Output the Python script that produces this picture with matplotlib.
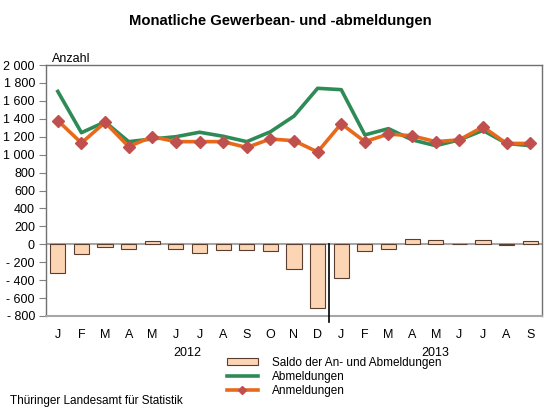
import matplotlib
matplotlib.use("Agg")
import matplotlib.pyplot as plt
from matplotlib.patches import Patch
from matplotlib.lines import Line2D
from matplotlib.ticker import FixedLocator, FuncFormatter
import numpy as np

plt.rcParams['font.family'] = ['Liberation Sans', 'DejaVu Sans']

months = ["J", "F", "M", "A", "M", "J", "J", "A", "S", "O", "N", "D",
          "J", "F", "M", "A", "M", "J", "J", "A", "S"]
years = ["2012", "2013"]
abmeldungen = [1705, 1245, 1365, 1145, 1175, 1200, 1250, 1205, 1145, 1255, 1430, 1740,
               1725, 1220, 1290, 1165, 1100, 1165, 1270, 1125, 1100]
anmeldungen = [1380, 1130, 1360, 1090, 1200, 1145, 1145, 1145, 1080, 1175, 1155, 1030,
               1345, 1145, 1230, 1210, 1145, 1165, 1310, 1125, 1125]
saldo = [-320, -108, -30, -52, 34, -52, -101, -64, -60, -78, -277, -710,
         -381, -75, -56, 56, 45, 5, 45, -10, 34]

W, H = 556, 418
fig = plt.figure(figsize=(W / 100, H / 100), dpi=100)
ax_l, ax_r, ax_t, ax_b = 46, 542, 65, 316
ax = fig.add_axes([ax_l / W, (H - ax_b) / H, (ax_r - ax_l) / W, (ax_b - ax_t) / H])

x = np.arange(len(months))
ax.bar(x, saldo, width=0.64, color="#FCD5B5", edgecolor="#5A3E30", linewidth=0.8, zorder=2)
ax.axhline(0, color="#A6A6A6", lw=1.5, zorder=1)
ax.plot(x, abmeldungen, color="#2E8B57", lw=2.6, zorder=3)
ax.plot(x, anmeldungen, color="#E8691A", lw=2.6, marker="D", markersize=6.5,
        markerfacecolor="#C0504D", markeredgecolor="#C0504D", zorder=4)

ax.set_xlim(-0.5, len(months) - 0.5)
ax.set_ylim(-800, 2000)
ax.yaxis.set_major_locator(FixedLocator(np.arange(-800, 2001, 200)))


def fmt(v, pos):
    v = int(round(v))
    s = "{:,}".format(abs(v)).replace(",", " ")
    return ("- " + s) if v < 0 else s


ax.yaxis.set_major_formatter(FuncFormatter(fmt))
ax.set_xticks(x)
ax.set_xticklabels(months)
ax.tick_params(axis="x", length=0, pad=9, labelsize=9)
ax.tick_params(axis="y", length=5, width=0.8, color="#808080", pad=3, labelsize=9)

for s in ["top", "right", "left"]:
    ax.spines[s].set_color("#707070")
    ax.spines[s].set_linewidth(1.0)
ax.spines["bottom"].set_color("#A6A6A6")
ax.spines["bottom"].set_linewidth(1.5)

# separator between years
ax.plot([11.5, 11.5], [0, -868], color="black", lw=1.2, clip_on=False, zorder=5)

# year labels
ax.text(5.5, -0.147, years[0], transform=ax.get_xaxis_transform(), ha="center", va="center", fontsize=9)
ax.text(16.0, -0.147, years[1], transform=ax.get_xaxis_transform(), ha="center", va="center", fontsize=9)

# Anzahl label
fig.text(52 / W, (H - 59) / H, "Anzahl", ha="left", va="center", fontsize=9)

# title
fig.text(280 / W, (H - 21) / H, "Monatliche Gewerbean- und -abmeldungen", ha="center", va="center",
         fontsize=10.7, fontweight="bold")

# legend
handles = [
    Patch(facecolor="#FCD5B5", edgecolor="#5A3E30", linewidth=0.8),
    Line2D([], [], color="#2E8B57", lw=2.6),
    Line2D([], [], color="#E8691A", lw=2.6, marker="D", markersize=4,
           markerfacecolor="#C0504D", markeredgecolor="#C0504D"),
]
labels = ["Saldo der An- und Abmeldungen", "Abmeldungen", "Anmeldungen"]
fig.legend(handles, labels, loc="upper left", bbox_to_anchor=(227 / W, (H - 357) / H),
           frameon=False, fontsize=8.5, handlelength=2.6, handleheight=0.55, handletextpad=1.2,
           labelspacing=0.15, borderpad=0, borderaxespad=0)

# footer
fig.text(10 / W, (H - 401) / H, "Thüringer Landesamt für Statistik", ha="left", va="center", fontsize=8.5)

fig.savefig("out.png", dpi=100)
